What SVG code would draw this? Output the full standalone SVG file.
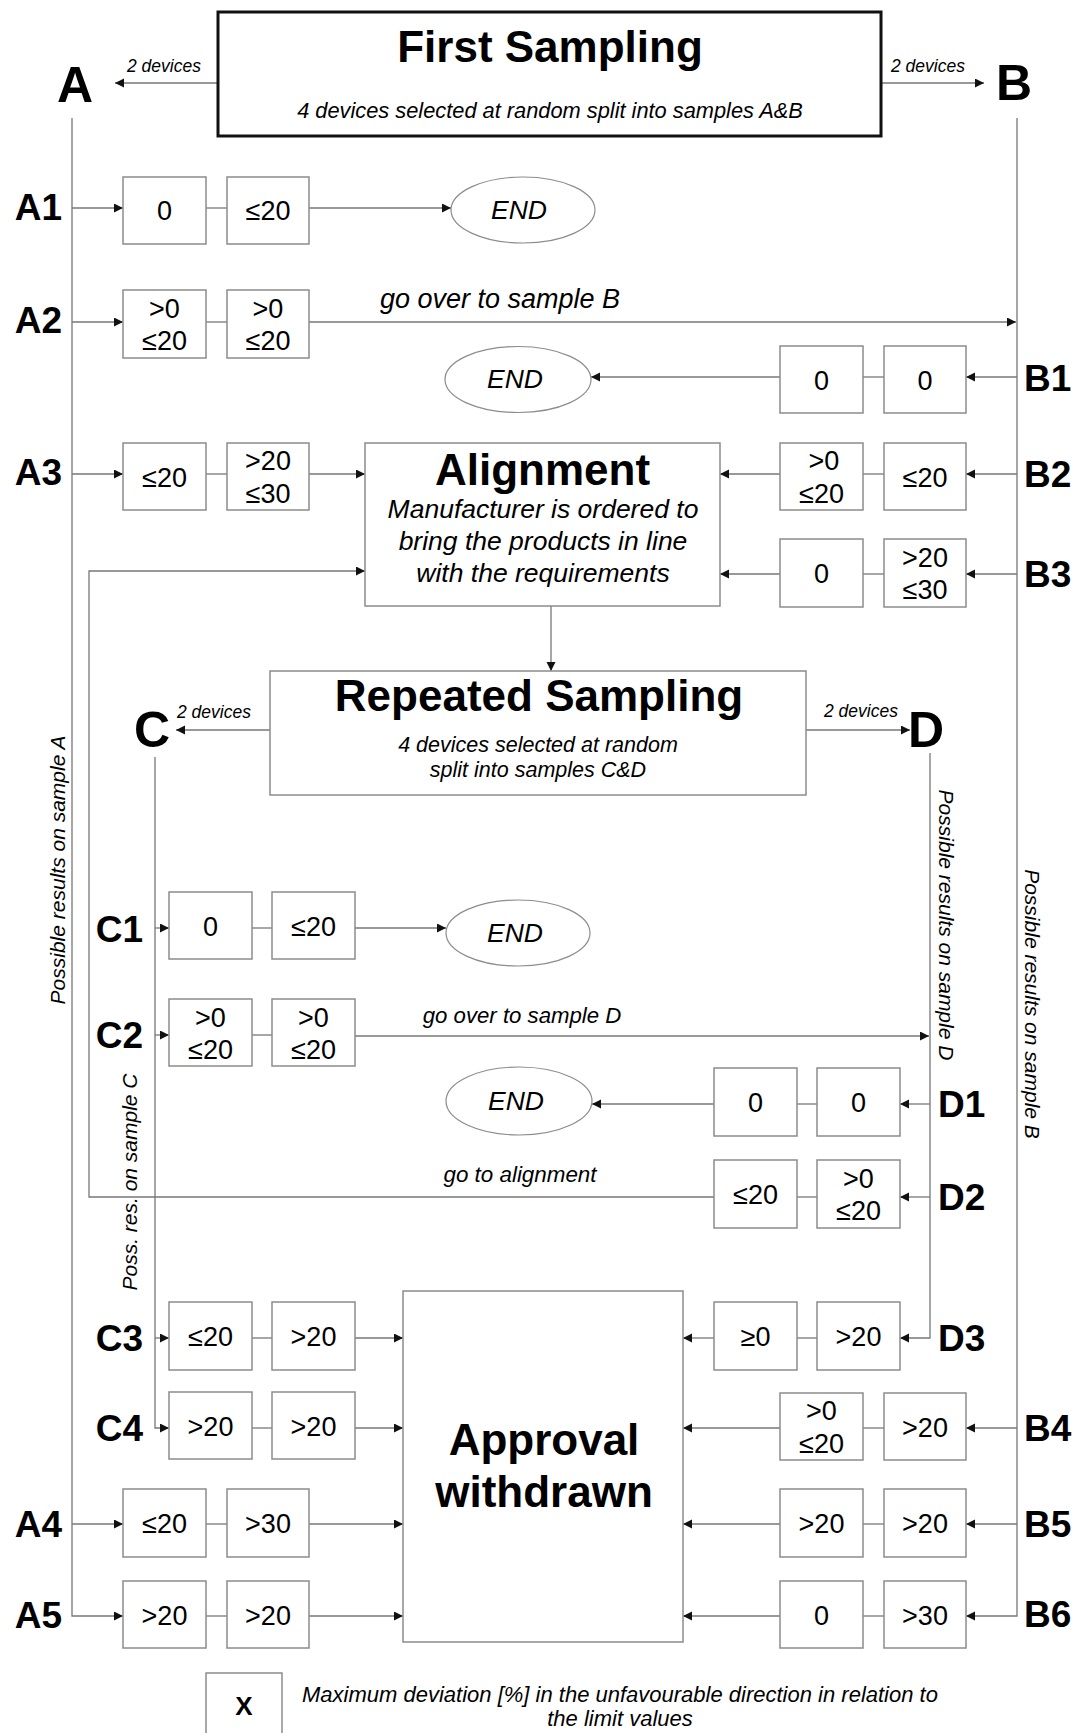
<svg xmlns="http://www.w3.org/2000/svg" width="1080" height="1733" viewBox="0 0 1080 1733">
<style>
text{font-family:"Liberation Sans",Arial,sans-serif;fill:#000}
.bx{fill:#fff;stroke:#8c8c8c;stroke-width:1.5}
.v{font-size:27px;text-anchor:middle}
.lb{font-size:37px;font-weight:bold}
.big{font-size:50px;font-weight:bold}
.it{font-style:italic}
.ttl{font-size:44px;font-weight:bold;text-anchor:middle}
.c{stroke:#777;stroke-width:1.3;fill:none}
.a{marker-end:url(#ah)}
.end{fill:#fff;stroke:#8c8c8c;stroke-width:1.2}
</style>
<defs>
<marker id="ah" markerUnits="userSpaceOnUse" markerWidth="10" markerHeight="10" refX="9" refY="4.5" orient="auto">
<path d="M0,0 L9,4.5 L0,9 z" fill="#111"/>
</marker>
</defs>
<rect width="1080" height="1733" fill="#fff"/>

<g id="connectors">
<path class="c a" d="M218,83 H115"/>
<path class="c a" d="M881,83 H984"/>
<path class="c a" d="M72,118 V1616 H123"/>
<path class="c a" d="M1017,118 V1616 H966"/>
<path class="c a" d="M155,757 V1428 H169"/>
<path class="c a" d="M930,753 V1338 H900"/>
<path class="c a" d="M72,208 H123"/><path class="c" d="M206,208 H227"/><path class="c a" d="M309,208 H451"/>
<path class="c a" d="M72,322 H123"/><path class="c" d="M206,322 H227"/><path class="c a" d="M309,322 H1016"/>
<path class="c a" d="M72,474 H123"/><path class="c" d="M206,474 H227"/><path class="c a" d="M309,474 H365"/>
<path class="c a" d="M72,1524 H123"/><path class="c" d="M206,1524 H227"/><path class="c a" d="M309,1524 H403"/>
<path class="c" d="M206,1616 H227"/><path class="c a" d="M309,1616 H403"/>
<path class="c a" d="M1017,377 H966"/><path class="c" d="M884,377 H863"/><path class="c a" d="M780,377 H591"/>
<path class="c a" d="M1017,474 H966"/><path class="c" d="M884,474 H863"/><path class="c a" d="M780,474 H720"/>
<path class="c a" d="M1017,574 H966"/><path class="c" d="M884,574 H863"/><path class="c a" d="M780,574 H720"/>
<path class="c a" d="M1017,1428 H966"/><path class="c" d="M884,1428 H863"/><path class="c a" d="M780,1428 H683"/>
<path class="c a" d="M1017,1524 H966"/><path class="c" d="M884,1524 H863"/><path class="c a" d="M780,1524 H683"/>
<path class="c" d="M884,1616 H863"/><path class="c a" d="M780,1616 H683"/>
<path class="c a" d="M551,606 V671"/>
<path class="c a" d="M714,1197 H89 V571 H365"/>
<path class="c a" d="M270,730 H176"/>
<path class="c a" d="M806,730 H910"/>
<path class="c a" d="M155,928 H169"/><path class="c" d="M252,928 H272"/><path class="c a" d="M355,928 H446"/>
<path class="c a" d="M155,1035 H169"/><path class="c" d="M252,1035 H272"/><path class="c a" d="M355,1036 H929"/>
<path class="c a" d="M155,1338 H169"/><path class="c" d="M252,1338 H272"/><path class="c a" d="M355,1338 H403"/>
<path class="c" d="M252,1428 H272"/><path class="c a" d="M355,1428 H403"/>
<path class="c a" d="M930,1104 H900"/><path class="c" d="M817,1104 H797"/><path class="c a" d="M714,1104 H592"/>
<path class="c a" d="M930,1197 H900"/><path class="c" d="M817,1197 H797"/>
<path class="c" d="M817,1338 H797"/><path class="c a" d="M714,1338 H683"/>
</g>

<g id="first-sampling">
<rect x="218" y="12" width="663" height="124" fill="#fff" stroke="#111" stroke-width="3"/>
<text x="550" y="62" class="ttl">First Sampling</text>
<text x="550" y="118" class="it" font-size="21.8" text-anchor="middle">4 devices selected at random split into samples A&amp;B</text>
</g>
<g id="lbl-2dev-a"><text x="127" y="72" class="it" font-size="17.5">2 devices</text></g>
<g id="lbl-2dev-b"><text x="891" y="72" class="it" font-size="17.5">2 devices</text></g>
<g id="A"><text x="57" y="102" class="big">A</text></g>
<g id="B"><text x="996" y="100" class="big">B</text></g>

<g id="txt-sampleA"><text transform="translate(65,870) rotate(-90)" class="it" font-size="21" text-anchor="middle">Possible results on sample A</text></g>
<g id="txt-sampleB"><text transform="translate(1025,1004) rotate(90)" class="it" font-size="21" text-anchor="middle">Possible results on sample B</text></g>

<g id="A1">
<text x="62" y="220" class="lb" text-anchor="end">A1</text>
<rect class="bx" x="123" y="177" width="83" height="67"/><text class="v" x="164.5" y="220">0</text>
<rect class="bx" x="227" y="177" width="82" height="67"/><text class="v" x="268" y="220">≤20</text>
</g>
<g id="A2">
<text x="62" y="333" class="lb" text-anchor="end">A2</text>
<rect class="bx" x="123" y="290" width="83" height="68"/><text class="v" x="164.5" y="318">&gt;0</text><text class="v" x="164.5" y="350">≤20</text>
<rect class="bx" x="227" y="290" width="82" height="68"/><text class="v" x="268" y="318">&gt;0</text><text class="v" x="268" y="350">≤20</text>
</g>
<g id="txt-goB"><text x="500" y="308" class="it" font-size="27" text-anchor="middle">go over to sample B</text></g>
<g id="A3">
<text x="62" y="485" class="lb" text-anchor="end">A3</text>
<rect class="bx" x="123" y="443" width="83" height="67"/><text class="v" x="164.5" y="487">≤20</text>
<rect class="bx" x="227" y="443" width="82" height="67"/><text class="v" x="268" y="470">&gt;20</text><text class="v" x="268" y="503">≤30</text>
</g>
<g id="A4">
<text x="62" y="1537" class="lb" text-anchor="end">A4</text>
<rect class="bx" x="123" y="1489" width="83" height="68"/><text class="v" x="164.5" y="1533">≤20</text>
<rect class="bx" x="227" y="1489" width="82" height="68"/><text class="v" x="268" y="1533">&gt;30</text>
</g>
<g id="A5">
<text x="62" y="1628" class="lb" text-anchor="end">A5</text>
<rect class="bx" x="123" y="1581" width="83" height="67"/><text class="v" x="164.5" y="1625">&gt;20</text>
<rect class="bx" x="227" y="1581" width="82" height="67"/><text class="v" x="268" y="1625">&gt;20</text>
</g>

<g id="B1">
<text x="1024" y="391" class="lb">B1</text>
<rect class="bx" x="780" y="346" width="83" height="67"/><text class="v" x="821.5" y="390">0</text>
<rect class="bx" x="884" y="346" width="82" height="67"/><text class="v" x="925" y="390">0</text>
</g>
<g id="B2">
<text x="1024" y="487" class="lb">B2</text>
<rect class="bx" x="780" y="443" width="83" height="67"/><text class="v" x="824" y="470">&gt;0</text><text class="v" x="821.5" y="503">≤20</text>
<rect class="bx" x="884" y="443" width="82" height="67"/><text class="v" x="925" y="487">≤20</text>
</g>
<g id="B3">
<text x="1024" y="587" class="lb">B3</text>
<rect class="bx" x="780" y="539" width="83" height="68"/><text class="v" x="821.5" y="583">0</text>
<rect class="bx" x="884" y="539" width="82" height="68"/><text class="v" x="925" y="567">&gt;20</text><text class="v" x="925" y="599">≤30</text>
</g>
<g id="B4">
<text x="1024" y="1441" class="lb">B4</text>
<rect class="bx" x="780" y="1393" width="83" height="67"/><text class="v" x="821.5" y="1420">&gt;0</text><text class="v" x="821.5" y="1453">≤20</text>
<rect class="bx" x="884" y="1393" width="82" height="67"/><text class="v" x="925" y="1437">&gt;20</text>
</g>
<g id="B5">
<text x="1024" y="1537" class="lb">B5</text>
<rect class="bx" x="780" y="1489" width="83" height="68"/><text class="v" x="821.5" y="1533">&gt;20</text>
<rect class="bx" x="884" y="1489" width="82" height="68"/><text class="v" x="925" y="1533">&gt;20</text>
</g>
<g id="B6">
<text x="1024" y="1627" class="lb">B6</text>
<rect class="bx" x="780" y="1581" width="83" height="67"/><text class="v" x="821.5" y="1625">0</text>
<rect class="bx" x="884" y="1581" width="82" height="67"/><text class="v" x="925" y="1625">&gt;30</text>
</g>

<g id="end1"><ellipse class="end" cx="523" cy="210" rx="72" ry="33"/><text x="519" y="219" class="it" font-size="26.5" text-anchor="middle">END</text></g>
<g id="end2"><ellipse class="end" cx="518" cy="379.5" rx="73" ry="33"/><text x="515" y="388" class="it" font-size="26.5" text-anchor="middle">END</text></g>
<g id="end3"><ellipse class="end" cx="518" cy="933" rx="72" ry="33"/><text x="515" y="942" class="it" font-size="26.5" text-anchor="middle">END</text></g>
<g id="end4"><ellipse class="end" cx="519" cy="1101" rx="73" ry="34"/><text x="516" y="1110" class="it" font-size="26.5" text-anchor="middle">END</text></g>

<g id="alignment">
<rect class="bx" x="365" y="443" width="355" height="163"/>
<text x="542.5" y="485" class="ttl">Alignment</text>
<text x="543" y="518" class="it" font-size="26.5" text-anchor="middle">Manufacturer is ordered to</text>
<text x="543" y="550" class="it" font-size="26.5" text-anchor="middle">bring the products in line</text>
<text x="543" y="582" class="it" font-size="26.5" text-anchor="middle">with the requirements</text>
</g>

<g id="repeated-sampling">
<rect class="bx" x="270" y="671" width="536" height="124"/>
<text x="539" y="711" class="ttl">Repeated Sampling</text>
<text x="538" y="752" class="it" font-size="21.5" text-anchor="middle">4 devices selected at random</text>
<text x="538" y="777" class="it" font-size="21.5" text-anchor="middle">split into samples C&amp;D</text>
</g>
<g id="lbl-2dev-c"><text x="177" y="718" class="it" font-size="17.5">2 devices</text></g>
<g id="lbl-2dev-d"><text x="824" y="717" class="it" font-size="17.5">2 devices</text></g>
<g id="C"><text x="134" y="747" class="big">C</text></g>
<g id="D"><text x="908" y="747" class="big">D</text></g>
<g id="txt-sampleC"><text transform="translate(137,1182) rotate(-90)" class="it" font-size="21" text-anchor="middle">Poss. res. on sample C</text></g>
<g id="txt-sampleD"><text transform="translate(939,925) rotate(90)" class="it" font-size="21" text-anchor="middle">Possible results on sample D</text></g>

<g id="C1">
<text x="143" y="942" class="lb" text-anchor="end">C1</text>
<rect class="bx" x="169" y="892" width="83" height="67"/><text class="v" x="210.5" y="936">0</text>
<rect class="bx" x="272" y="892" width="83" height="67"/><text class="v" x="313.5" y="936">≤20</text>
</g>
<g id="C2">
<text x="143" y="1048" class="lb" text-anchor="end">C2</text>
<rect class="bx" x="169" y="999" width="83" height="67"/><text class="v" x="210.5" y="1027">&gt;0</text><text class="v" x="210.5" y="1059">≤20</text>
<rect class="bx" x="272" y="999" width="83" height="67"/><text class="v" x="313.5" y="1027">&gt;0</text><text class="v" x="313.5" y="1059">≤20</text>
</g>
<g id="txt-goD"><text x="522" y="1023" class="it" font-size="22.2" text-anchor="middle">go over to sample D</text></g>
<g id="C3">
<text x="143" y="1351" class="lb" text-anchor="end">C3</text>
<rect class="bx" x="169" y="1302" width="83" height="68"/><text class="v" x="210.5" y="1346">≤20</text>
<rect class="bx" x="272" y="1302" width="83" height="68"/><text class="v" x="313.5" y="1346">&gt;20</text>
</g>
<g id="C4">
<text x="143" y="1441" class="lb" text-anchor="end">C4</text>
<rect class="bx" x="169" y="1392" width="83" height="67"/><text class="v" x="210.5" y="1436">&gt;20</text>
<rect class="bx" x="272" y="1392" width="83" height="67"/><text class="v" x="313.5" y="1436">&gt;20</text>
</g>

<g id="D1">
<text x="938" y="1117" class="lb">D1</text>
<rect class="bx" x="714" y="1068" width="83" height="68"/><text class="v" x="755.5" y="1112">0</text>
<rect class="bx" x="817" y="1068" width="83" height="68"/><text class="v" x="858.5" y="1112">0</text>
</g>
<g id="D2">
<text x="938" y="1210" class="lb">D2</text>
<rect class="bx" x="714" y="1160" width="83" height="68"/><text class="v" x="755.5" y="1204">≤20</text>
<rect class="bx" x="817" y="1160" width="83" height="68"/><text class="v" x="858.5" y="1188">&gt;0</text><text class="v" x="858.5" y="1220">≤20</text>
</g>
<g id="txt-goAlign"><text x="520" y="1182" class="it" font-size="22.4" text-anchor="middle">go to alignment</text></g>
<g id="D3">
<text x="938" y="1351" class="lb">D3</text>
<rect class="bx" x="714" y="1302" width="83" height="68"/><text class="v" x="755.5" y="1346">≥0</text>
<rect class="bx" x="817" y="1302" width="83" height="68"/><text class="v" x="858.5" y="1346">&gt;20</text>
</g>

<g id="approval-withdrawn">
<rect class="bx" x="403" y="1291" width="280" height="351"/>
<text x="544" y="1455" class="ttl">Approval</text>
<text x="544" y="1507" class="ttl">withdrawn</text>
</g>

<g id="legend">
<rect class="bx" x="206" y="1673" width="76" height="80"/>
<text x="244" y="1715" font-size="26" font-weight="bold" text-anchor="middle">X</text>
<text x="620" y="1702" class="it" font-size="22" text-anchor="middle">Maximum deviation [%] in the unfavourable direction in relation to</text>
<text x="620" y="1726" class="it" font-size="22" text-anchor="middle">the limit values</text>
</g>
</svg>
